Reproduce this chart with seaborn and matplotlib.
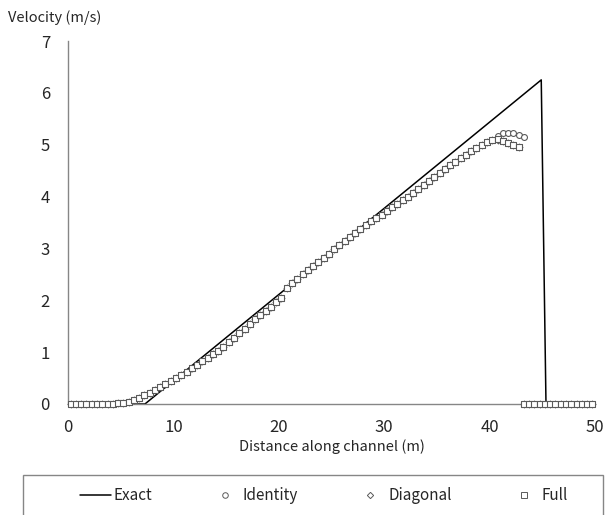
import matplotlib
matplotlib.use("Agg")
import matplotlib.pyplot as plt
from matplotlib.lines import Line2D
from matplotlib.patches import Rectangle
import numpy as np
import pandas as pd
import seaborn as sns

# Cell-centre positions along the channel (m)
distance = np.arange(0.25, 50.0, 0.5)

# Velocity profile shared by all three numerical schemes up to x = 40.25 m
shared_velocity = [
    0, 0, 0, 0, 0, 0, 0, 0, 0,
    0.01, 0.025, 0.045, 0.075, 0.12, 0.17, 0.22, 0.27, 0.33, 0.38,
    0.44, 0.50, 0.56, 0.62, 0.69, 0.76, 0.82, 0.89, 0.96, 1.03,
    1.105, 1.19, 1.27, 1.36, 1.45, 1.54, 1.63, 1.71, 1.79, 1.88,
    1.96, 2.04,
    2.24, 2.33, 2.41, 2.50, 2.58, 2.66, 2.74, 2.82, 2.90, 2.98,
    3.06, 3.14, 3.22, 3.30, 3.38, 3.46, 3.53, 3.59, 3.65, 3.72,
    3.79, 3.86, 3.93, 4.00, 4.07, 4.14, 4.22, 4.30, 4.38, 4.46,
    4.53, 4.60, 4.67, 4.74, 4.81, 4.88, 4.94, 5.00, 5.05, 5.09,
]

# Near-front values, x = 40.75 m onward
identity_tail = [5.17, 5.22, 5.23, 5.22, 5.19, 5.15] + [0] * 13
diagonal_tail = [5.10, 5.07, 5.03, 4.99, 4.95] + [0] * 14
full_tail = [5.11, 5.08, 5.04, 5.00, 4.95] + [0] * 14

identity = shared_velocity + identity_tail
diagonal = shared_velocity + diagonal_tail
full = shared_velocity + full_tail

# Exact solution vertices (m, m/s)
exact_x = [0, 7.3, 44.9, 45.35, 50]
exact_u = [0, 0, 6.25, 0, 0]

sns.set_style("white")
plt.rcParams["font.family"] = ["Noto Sans CJK KR", "DejaVu Sans"]
plt.rcParams["font.size"] = 12

fig = plt.figure(figsize=(6.06, 5.15), dpi=100)
ax = fig.add_axes([68 / 606, 1 - 404 / 515, (595 - 68) / 606, (404 - 41) / 515])

spine_grey = "#868686"
edge_grey = "#5a5a5a"
text_col = "#262626"

sns.lineplot(x=exact_x, y=exact_u, ax=ax, color="black", linewidth=1.1,
             sort=False, estimator=None, zorder=2)

marker_kw = dict(s=18, facecolor="white", edgecolor=edge_grey,
                 linewidth=0.8, clip_on=False, zorder=3)
sns.scatterplot(x=distance, y=identity, marker="o", ax=ax, **marker_kw)
sns.scatterplot(x=distance, y=diagonal, marker="D", ax=ax,
                **{**marker_kw, "s": 12})
sns.scatterplot(x=distance, y=full, marker="s", ax=ax, **marker_kw)

ax.set_xlim(0, 50)
ax.set_ylim(0, 7)
ax.set_xticks([0, 10, 20, 30, 40, 50])
ax.set_yticks(range(0, 8))
sns.despine(ax=ax)
for side in ("left", "bottom"):
    ax.spines[side].set_color(spine_grey)
    ax.spines[side].set_linewidth(1.0)
ax.tick_params(direction="out", length=5, width=1.0, color=spine_grey,
               labelcolor=text_col, labelsize=12, pad=6)
ax.tick_params(axis="y", pad=8)

ax.set_xlabel("Distance along channel (m)", fontsize=10.5, color=text_col,
              labelpad=2)
fig.text(8 / 606, 1 - 18 / 515, "Velocity (m/s)", fontsize=10.5,
         color=text_col, ha="left", va="center")

# Legend frame running off the bottom edge
fig.patches.append(Rectangle((23 / 606, -0.1), (603 - 23) / 606,
                             0.1 + 1 - 475 / 515, transform=fig.transFigure,
                             fill=False, edgecolor=spine_grey, linewidth=1.0))

handles = [
    Line2D([], [], color="black", linewidth=1.1),
    Line2D([], [], linestyle="none", marker="o", markersize=4,
           markerfacecolor="white", markeredgecolor=edge_grey, markeredgewidth=0.7),
    Line2D([], [], linestyle="none", marker="D", markersize=3.2,
           markerfacecolor="white", markeredgecolor=edge_grey, markeredgewidth=0.7),
    Line2D([], [], linestyle="none", marker="s", markersize=4,
           markerfacecolor="white", markeredgecolor=edge_grey, markeredgewidth=0.7),
]
labels = ["Exact", "Identity", "Diagonal", "Full"]
fig.legend(handles, labels, ncol=4, frameon=False, loc="center left",
           bbox_to_anchor=(80 / 606, 1 - 496 / 515), borderpad=0,
           borderaxespad=0, handlelength=2.05, handletextpad=0.15,
           columnspacing=3.7, fontsize=11, labelcolor=text_col)

fig.savefig("out.png", dpi=100)
